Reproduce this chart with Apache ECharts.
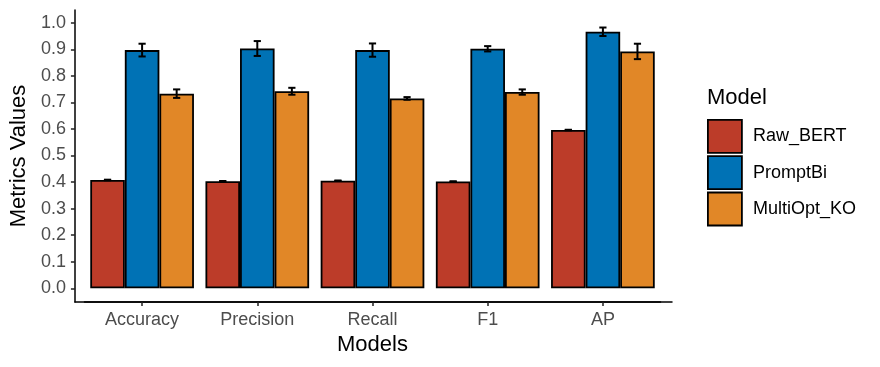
<!DOCTYPE html>
<html>
<head>
<meta charset="utf-8">
<script src="https://cdn.jsdelivr.net/npm/echarts@6/dist/echarts.min.js"></script>
<style>
html,body{margin:0;padding:0;background:#fff;}
#chart{width:880px;height:367px;}
</style>
</head>
<body>
<div id="chart"></div>
<script>
const categories = ['Accuracy', 'Precision', 'Recall', 'F1', 'AP'];
const seriesNames = ['Raw_BERT', 'PromptBi', 'MultiOpt_KO'];
const rawBert = [0.408, 0.403, 0.405, 0.402, 0.596];
const rawBertErr = [0.001, 0.001, 0.001, 0.001, 0.001];
const promptBi = [0.897, 0.903, 0.897, 0.902, 0.966];
const promptBiErr = [0.024, 0.028, 0.025, 0.010, 0.016];
const multiOpt = [0.733, 0.742, 0.715, 0.739, 0.892];
const multiOptErr = [0.016, 0.013, 0.005, 0.010, 0.029];
const yTicks = [0.0, 0.1, 0.2, 0.3, 0.4, 0.5, 0.6, 0.7, 0.8, 0.9, 1.0];

const colors = ['#BC3C29', '#0072B5', '#E18727'];
const means = [rawBert, promptBi, multiOpt];
const errs = [rawBertErr, promptBiErr, multiOptErr];
const FONT = '"Liberation Sans", Arial, Helvetica, sans-serif';
const yMin = -0.0516, yMax = 1.048;

const chart = echarts.init(document.getElementById('chart'), null, {renderer: 'canvas'});

const series = [];
means.forEach((m, i) => {
  series.push({
    name: seriesNames[i],
    type: 'bar',
    xAxisIndex: 0, yAxisIndex: 0,
    data: m,
    barWidth: '30%',
    barGap: '0%',
    itemStyle: {color: colors[i], borderColor: '#000', borderWidth: 1.8},
    emphasis: {disabled: true},
    z: 2
  });
});
means.forEach((m, i) => {
  const offset = i - 1;
  series.push({
    name: 'err_' + seriesNames[i],
    type: 'custom',
    xAxisIndex: 0, yAxisIndex: 0,
    data: m.map((v, k) => [k, v - errs[i][k], v + errs[i][k]]),
    z: 5,
    silent: true,
    renderItem: function (params, api) {
      const x = api.value(0);
      const lo = api.coord([x, api.value(1)]);
      const hi = api.coord([x, api.value(2)]);
      const band = api.size([1, 0])[0];
      const cx = lo[0] + offset * band * 0.3;
      const cap = 3.6;
      const st = {stroke: '#000', lineWidth: 2};
      return {
        type: 'group',
        children: [
          {type: 'line', shape: {x1: cx, y1: lo[1], x2: cx, y2: hi[1]}, style: st},
          {type: 'line', shape: {x1: cx - cap, y1: lo[1], x2: cx + cap, y2: lo[1]}, style: st},
          {type: 'line', shape: {x1: cx - cap, y1: hi[1], x2: cx + cap, y2: hi[1]}, style: st}
        ]
      };
    }
  });
});

const option = {
  backgroundColor: '#fff',
  animation: false,
  textStyle: {fontFamily: FONT},
  grid: [
    {left: 84.5, right: 219.5, top: 10, bottom: 65},
    {left: 73, right: 208, top: 10, bottom: 65}
  ],
  xAxis: [
    {
      type: 'category', gridIndex: 0, data: categories,
      axisLine: {show: true, onZero: false, lineStyle: {color: '#000', width: 1.5}},
      axisTick: {show: true, alignWithLabel: true, length: 4, lineStyle: {color: '#222', width: 1.5}},
      axisLabel: {color: '#4D4D4D', fontSize: 18, margin: 9, fontFamily: FONT},
      splitLine: {show: false},
      name: 'Models', nameLocation: 'middle', nameGap: 31,
      nameTextStyle: {color: '#000', fontSize: 22, fontFamily: FONT},
      z: 10
    },
    {
      type: 'value', gridIndex: 1, min: 0, max: 1,
      axisLine: {show: true, onZero: false, lineStyle: {color: '#000', width: 1.5}},
      axisTick: {show: false}, axisLabel: {show: false}, splitLine: {show: false}
    }
  ],
  yAxis: [
    {type: 'value', gridIndex: 0, min: yMin, max: yMax, show: false, splitLine: {show: false}},
    {
      type: 'value', gridIndex: 1, min: yMin, max: yMax,
      axisLine: {show: true, onZero: false, lineStyle: {color: '#000', width: 1.5}},
      axisTick: {show: true, length: 4, customValues: yTicks, lineStyle: {color: '#222', width: 1.5}},
      axisLabel: {show: true, customValues: yTicks, color: '#4D4D4D', fontSize: 18, margin: 9,
        fontFamily: FONT, formatter: v => Number(v).toFixed(1)},
      splitLine: {show: false},
      name: 'Metrics Values', nameLocation: 'middle', nameGap: 33,
      nameTextStyle: {color: '#000', fontSize: 22, fontFamily: FONT}
    }
  ],
  legend: {
    data: seriesNames,
    orient: 'vertical',
    left: 707, top: 119,
    padding: 0,
    icon: 'rect',
    itemWidth: 34, itemHeight: 33, itemGap: 1.5,
    itemStyle: {borderColor: '#000', borderWidth: 1.8},
    textStyle: {color: '#000', fontSize: 18, fontFamily: FONT, padding: [0, 0, 0, 6]},
    selectedMode: false
  },
  graphic: [
    {type: 'text', left: 707, top: 87, style: {text: 'Model', fontSize: 22, fill: '#000', fontFamily: FONT}}
  ],
  series: series
};
chart.setOption(option);
</script>
</body>
</html>
